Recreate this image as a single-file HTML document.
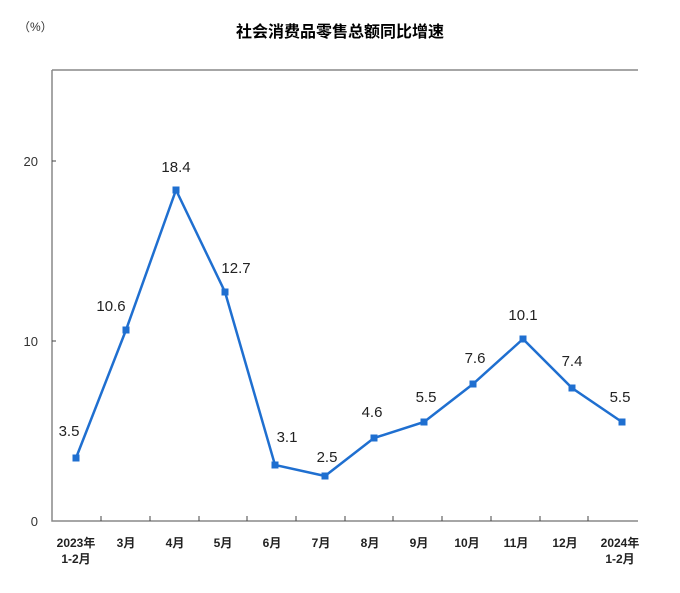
<!DOCTYPE html>
<html><head><meta charset="utf-8"><style>
body{margin:0;background:#fff;}
text{font-family:"Liberation Sans","Noto Sans CJK SC",sans-serif;}
</style></head><body>
<svg width="680" height="588" xmlns="http://www.w3.org/2000/svg">
<text x="340" y="37" text-anchor="middle" font-size="16" font-weight="bold" fill="#000">社会消费品零售总额同比增速</text>
<text x="18" y="31" font-size="12" fill="#333">（%）</text>
<path d="M52 70 H638 M52 70 V521 H638" stroke="#888" stroke-width="1.5" fill="none"/>
<g stroke="#444" stroke-width="1">
<line x1="52" y1="161" x2="56" y2="161"/><line x1="52" y1="341" x2="56" y2="341"/>
<line x1="101" y1="521" x2="101" y2="516"/><line x1="150" y1="521" x2="150" y2="516"/><line x1="199" y1="521" x2="199" y2="516"/><line x1="247" y1="521" x2="247" y2="516"/><line x1="296" y1="521" x2="296" y2="516"/><line x1="345" y1="521" x2="345" y2="516"/><line x1="393" y1="521" x2="393" y2="516"/><line x1="442" y1="521" x2="442" y2="516"/><line x1="491" y1="521" x2="491" y2="516"/><line x1="540" y1="521" x2="540" y2="516"/><line x1="588" y1="521" x2="588" y2="516"/>
</g>
<g font-size="13" fill="#333" text-anchor="end">
<text x="38" y="166">20</text><text x="38" y="346">10</text><text x="38" y="526">0</text>
</g>
<g font-size="12" font-weight="bold" fill="#222" text-anchor="middle">
<text x="76" y="547">2023年</text><text x="76" y="563">1-2月</text>
<text x="126" y="547">3月</text><text x="175" y="547">4月</text><text x="223" y="547">5月</text><text x="272" y="547">6月</text><text x="321" y="547">7月</text><text x="370" y="547">8月</text><text x="419" y="547">9月</text><text x="467" y="547">10月</text><text x="516" y="547">11月</text><text x="565" y="547">12月</text>
<text x="620" y="547">2024年</text><text x="620" y="563">1-2月</text>
</g>
<polyline fill="none" stroke="#1f6fd0" stroke-width="2.5" points="76,458 126,330 176,190 225,292 275,465 325,476 374,438 424,422 473,384 523,339 572,388 622,422"/>
<g fill="#1f6fd0">
<rect x="72.5" y="454.5" width="7" height="7"/><rect x="122.5" y="326.5" width="7" height="7"/><rect x="172.5" y="186.5" width="7" height="7"/><rect x="221.5" y="288.5" width="7" height="7"/><rect x="271.5" y="461.5" width="7" height="7"/><rect x="321.5" y="472.5" width="7" height="7"/><rect x="370.5" y="434.5" width="7" height="7"/><rect x="420.5" y="418.5" width="7" height="7"/><rect x="469.5" y="380.5" width="7" height="7"/><rect x="519.5" y="335.5" width="7" height="7"/><rect x="568.5" y="384.5" width="7" height="7"/><rect x="618.5" y="418.5" width="7" height="7"/>
</g>
<g font-size="15" fill="#222" text-anchor="middle">
<text x="69" y="436">3.5</text><text x="111" y="311">10.6</text><text x="176" y="172">18.4</text><text x="236" y="273">12.7</text><text x="287" y="442">3.1</text><text x="327" y="462">2.5</text><text x="372" y="417">4.6</text><text x="426" y="402">5.5</text><text x="475" y="363">7.6</text><text x="523" y="320">10.1</text><text x="572" y="366">7.4</text><text x="620" y="402">5.5</text>
</g>
</svg>
</body></html>
